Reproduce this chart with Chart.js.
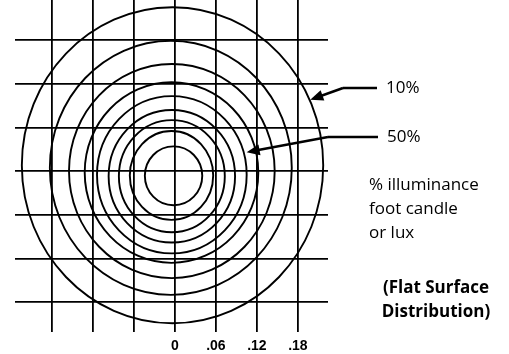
<!DOCTYPE html>
<html>
<head>
<meta charset="utf-8">
<script src="https://cdn.jsdelivr.net/npm/chart.js@4/dist/chart.umd.min.js"></script>
<style>
  html, body { margin: 0; padding: 0; background: #fff; }
  #wrap { width: 509px; height: 354px; }
</style>
</head>
<body>
<div id="wrap"><canvas id="myChart"></canvas></div>
<script>
// iso-illuminance rings, inner to outer (extents in axis units)
const ringLeft   = [-0.044, -0.066, -0.082, -0.097, -0.114, -0.132, -0.155, -0.183, -0.224];
const ringRight  = [0.040, 0.056, 0.073, 0.088, 0.105, 0.122, 0.146, 0.171, 0.217];
const ringTop    = [0.034, 0.055, 0.070, 0.084, 0.103, 0.122, 0.147, 0.179, 0.225];
const ringBottom = [-0.047, -0.067, -0.084, -0.098, -0.113, -0.126, -0.147, -0.170, -0.209];

const gridValues = [-0.18, -0.12, -0.06, 0, 0.06, 0.12, 0.18];
const xTickLabels = ["", "", "", "0", ".06", ".12", ".18"];

// callouts: label, arrow tip (axis units)
const calloutLabels = ["10%", "50%"];
const calloutTipX = [0.198, 0.105];
const calloutTipY = [0.098, 0.026];

const noteLines = ["% illuminance", "foot candle", "or lux"];
const boldLines = ["(Flat Surface", "Distribution)"];

const datasets = ringLeft.map((l, i) => {
  const cx = (l + ringRight[i]) / 2;
  const cy = (ringTop[i] + ringBottom[i]) / 2;
  const pts = [
    { x: ringRight[i], y: cy },
    { x: cx, y: ringTop[i] },
    { x: l, y: cy },
    { x: cx, y: ringBottom[i] },
  ];
  // wrap around so every drawn segment gets smooth neighbours
  const data = [pts[3], pts[0], pts[1], pts[2], pts[3], pts[0], pts[1]];
  return {
    data: data,
    showLine: true,
    borderColor: "#000",
    borderWidth: 1.9,
    pointRadius: 0,
    tension: 0.552,
    segment: {
      borderColor: ctx =>
        ctx.p0DataIndex === 0 || ctx.p1DataIndex === 6 ? "rgba(0,0,0,0)" : "#000",
    },
  };
});

const arrow = (ctx, x0, y0, x1, y1) => {
  const a = Math.atan2(y1 - y0, x1 - x0);
  const len = 13, w = 5.5;
  ctx.beginPath();
  ctx.moveTo(x0, y0);
  ctx.lineTo(x1 - Math.cos(a) * len * 0.8, y1 - Math.sin(a) * len * 0.8);
  ctx.stroke();
  ctx.beginPath();
  ctx.moveTo(x1, y1);
  ctx.lineTo(x1 - Math.cos(a) * len - Math.sin(a) * w, y1 - Math.sin(a) * len + Math.cos(a) * w);
  ctx.lineTo(x1 - Math.cos(a) * len + Math.sin(a) * w, y1 - Math.sin(a) * len - Math.cos(a) * w);
  ctx.closePath();
  ctx.fill();
};

const notes = {
  id: "notes",
  afterDraw(chart) {
    const ctx = chart.ctx;
    const xs = chart.scales.x, ys = chart.scales.y;
    ctx.save();
    ctx.strokeStyle = "#000";
    ctx.fillStyle = "#000";
    ctx.lineWidth = 2.5;
    const textY = [88, 137];
    const elbowX = [343, 328];
    const lineEnd = [377, 378];
    const textX = [386, 387];
    calloutLabels.forEach((lab, i) => {
      ctx.beginPath();
      ctx.moveTo(lineEnd[i], textY[i]);
      ctx.lineTo(elbowX[i], textY[i]);
      ctx.stroke();
      arrow(ctx, elbowX[i], textY[i], xs.getPixelForValue(calloutTipX[i]), ys.getPixelForValue(calloutTipY[i]));
      ctx.font = "17px 'Open Sans'";
      ctx.textBaseline = "middle";
      ctx.textAlign = "left";
      ctx.fillText(lab, textX[i], textY[i]);
    });
    ctx.font = "17px 'Open Sans'";
    noteLines.forEach((t, i) => ctx.fillText(t, 369, 185 + i * 24));
    ctx.font = "bold 17px 'Open Sans'";
    ctx.textAlign = "center";
    boldLines.forEach((t, i) => ctx.fillText(t, 436, 288 + i * 24));
    ctx.restore();
  },
};

new Chart("myChart", {
  type: "scatter",
  data: { datasets: datasets },
  options: {
    responsive: true,
    maintainAspectRatio: false,
    animation: false,
    layout: { padding: { left: 15, right: 181, top: 0, bottom: 0 } },
    plugins: {
      legend: { display: false },
      tooltip: { enabled: false },
    },
    scales: {
      x: {
        type: "linear",
        min: -0.234,
        max: 0.224,
        afterBuildTicks: s => { s.ticks = gridValues.map(v => ({ value: v })); },
        afterFit: s => { s.height = 22; },
        border: { display: false },
        grid: { color: "#000", lineWidth: 1.8, drawTicks: false },
        ticks: {
          padding: 6,
          color: "#000",
          font: { family: "'Liberation Sans', Arial", size: 14, weight: "bold" },
          callback: (v, i) => xTickLabels[i],
        },
      },
      y: {
        type: "linear",
        min: -0.221,
        max: 0.235,
        afterBuildTicks: s => { s.ticks = gridValues.map(v => ({ value: v })); },
        afterFit: s => { s.width = 0; },
        border: { display: false },
        grid: { color: "#000", lineWidth: 1.8, drawTicks: false },
        ticks: { display: false },
      },
    },
  },
  plugins: [notes],
});
</script>
</body>
</html>
